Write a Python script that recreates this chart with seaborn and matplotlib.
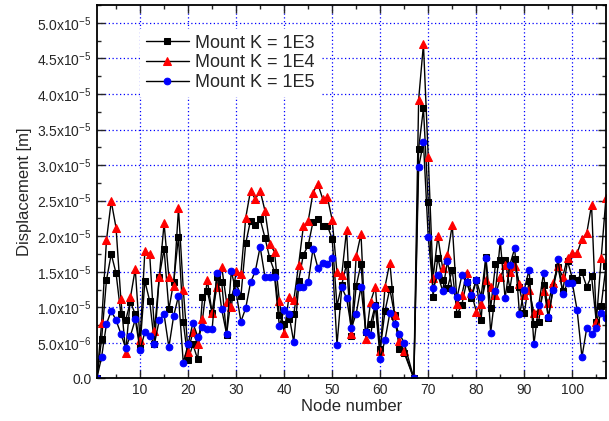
import numpy as np
import pandas as pd
import matplotlib
matplotlib.use("Agg")
import matplotlib.pyplot as plt
import seaborn as sns
from matplotlib.ticker import FixedLocator, MultipleLocator, FuncFormatter

# ---- data (values in 1e-6 m) ----
nodes = [1, 2, 3, 4, 5, 6, 7, 8, 9, 10, 11, 12, 13, 14, 15, 16, 17, 18, 19, 20,
         21, 22, 23, 24, 25, 26, 27, 28, 29, 30, 31, 32, 33, 34, 35, 36, 37, 38, 39, 40,
         41, 42, 43, 44, 45, 46, 47, 48, 49, 50, 51, 52, 53, 54, 55, 56, 57, 58, 59, 60,
         61, 62, 63, 64, 65, 67, 68, 69, 70, 71, 72, 73, 74, 75, 76, 77, 78, 79, 80,
         81, 82, 83, 84, 85, 86, 87, 88, 89, 90, 91, 92, 93, 94, 95, 96, 97, 98, 99, 100,
         101, 102, 103, 104, 105, 106, 107]

k1e3 = [0, 5.6, 13.8, 17.5, 14.8, 9.1, 8.2, 10.8, 9.0, 4.5, 13.7, 10.9, 4.9, 14.3, 18.2, 9.7, 13.6, 19.9, 7.9, 2.6,
        4.8, 2.7, 11.4, 12.3, 9.2, 14.2, 13.5, 6.1, 11.5, 13.4, 11.6, 19.0, 22.2, 21.6, 22.4, 19.8, 16.9, 15.0, 8.9, 7.7,
        8.4, 9.0, 13.7, 17.4, 18.7, 22.0, 22.4, 21.5, 21.5, 19.6, 10.2, 13.2, 16.1, 6.0, 13.0, 16.1, 6.6, 7.7, 10.4, 4.1,
        9.5, 12.6, 8.9, 4.1, 3.6, 0, 32.3, 38.0, 24.8, 11.5, 17.0, 13.9, 12.7, 15.3, 9.0, 10.4, 13.6, 11.3, 13.8,
        8.2, 17.1, 9.9, 16.1, 16.6, 16.7, 12.6, 16.8, 12.8, 9.2, 13.7, 7.7, 8.0, 13.1, 8.5, 12.8, 15.7, 12.3, 16.5, 14.1,
        13.8, 14.9, 12.9, 14.4, 7.9, 10.2, 15.8]

k1e4 = [0, 7.8, 19.4, 24.9, 21.2, 11.2, 3.6, 11.4, 15.4, 5.4, 17.9, 17.5, 6.7, 14.3, 21.8, 14.2, 13.0, 23.9, 12.5, 3.7,
        6.6, 4.8, 8.3, 13.9, 9.2, 12.8, 15.7, 10.8, 10.1, 15.1, 14.7, 22.6, 26.4, 25.2, 26.4, 23.6, 18.9, 17.8, 10.9, 6.4,
        11.5, 11.0, 15.9, 21.4, 22.1, 26.1, 27.4, 25.3, 25.5, 22.3, 14.9, 14.6, 20.9, 6.3, 17.2, 20.3, 5.5, 10.8, 12.9, 3.8,
        12.9, 16.3, 8.9, 5.2, 3.9, 0, 39.2, 47.0, 31.1, 14.1, 20.0, 15.5, 17.3, 21.6, 10.5, 11.8, 14.8, 12.0, 9.4,
        10.5, 13.8, 12.8, 11.7, 14.2, 15.9, 15.0, 15.8, 13.3, 11.7, 12.5, 9.2, 9.6, 12.3, 10.6, 13.4, 15.8, 14.3, 17.0, 17.6,
        17.6, 19.6, 20.4, 24.4, 8.0, 16.9, 25.4]

k1e5 = [0, 3.05, 7.65, 9.5, 8.2, 6.3, 4.3, 6.0, 8.3, 4.0, 6.5, 6.0, 4.9, 8.2, 9.0, 4.4, 8.8, 11.6, 2.2, 4.8,
        7.8, 5.9, 7.3, 6.9, 6.9, 14.8, 9.7, 6.3, 15.1, 12.1, 8.0, 9.9, 13.5, 15.1, 18.5, 14.3, 14.3, 14.3, 7.4, 9.6,
        9.0, 5.1, 12.8, 12.8, 13.5, 18.2, 15.6, 16.3, 16.1, 17.0, 4.7, 12.8, 11.3, 7.1, 9.1, 12.9, 6.6, 6.1, 10.2, 2.8,
        5.4, 9.2, 7.6, 6.3, 5.0, 0, 29.7, 33.2, 19.9, 12.7, 14.6, 12.3, 16.5, 12.4, 11.4, 14.5, 13.5, 11.7, 13.9,
        11.5, 17.0, 6.4, 12.3, 19.3, 11.3, 16.0, 18.3, 9.0, 12.5, 15.3, 4.8, 10.3, 14.8, 8.6, 12.5, 16.8, 11.9, 13.4, 13.4,
        9.6, 3.0, 7.1, 6.2, 7.1, 9.2, 8.5]

labels = ["Mount K = 1E3", "Mount K = 1E4", "Mount K = 1E5"]
x_ticks = [10, 20, 30, 40, 50, 60, 70, 80, 90, 100]
y_ticks = [0, 5e-6, 1e-5, 1.5e-5, 2e-5, 2.5e-5, 3e-5, 3.5e-5, 4e-5, 4.5e-5, 5e-5]

sns.set_style("ticks")
plt.rcParams['font.family'] = ['Liberation Sans', 'DejaVu Sans']
plt.rcParams['mathtext.fontset'] = 'custom'
plt.rcParams['mathtext.rm'] = 'Liberation Sans'
plt.rcParams['mathtext.default'] = 'regular'

df = pd.DataFrame({"node": nodes,
                   labels[0]: np.array(k1e3) * 1e-6,
                   labels[1]: np.array(k1e4) * 1e-6,
                   labels[2]: np.array(k1e5) * 1e-6})

fig = plt.figure(figsize=(6.09, 4.21), dpi=100)
ax = fig.add_axes([0.159, 0.101, 0.836, 0.887])

styles = [("s", "black", 4.3), ("^", "red", 5.3), ("o", "blue", 4.8)]
for lab, (mk, col, ms) in zip(labels, styles):
    sns.lineplot(data=df, x="node", y=lab, ax=ax, color="black", linewidth=1.0,
                 marker=mk, markersize=ms, markerfacecolor=col, markeredgecolor=col,
                 label=lab, estimator=None, sort=False)

ax.set_xlim(1, 107)
ax.set_ylim(0, 5.25e-5)
ax.xaxis.set_major_locator(FixedLocator(x_ticks))
ax.xaxis.set_minor_locator(MultipleLocator(5))
ax.yaxis.set_major_locator(FixedLocator(y_ticks))
ax.yaxis.set_minor_locator(MultipleLocator(2.5e-6))


def yfmt(v, pos):
    if abs(v) < 1e-12:
        return "0.0"
    e = int(np.floor(np.log10(v) + 1e-9))
    m = v / 10 ** e
    return f"{m:.1f}x10$^{{{e}}}$"


ax.yaxis.set_major_formatter(FuncFormatter(yfmt))
ax.tick_params(which="both", direction="in", top=True, right=True, width=1.0, labelsize=10)
ax.tick_params(which="major", length=5.5)
ax.tick_params(which="minor", length=3)
ax.grid(True, which="major", color="blue", linestyle=(0, (1, 2)), linewidth=0.9)
for s in ax.spines.values():
    s.set_linewidth(1.3)
    s.set_color("black")

ax.set_xlabel("Node number", fontsize=12, labelpad=1)
ax.set_ylabel("Displacement [m]", fontsize=12, labelpad=4)

leg = ax.legend(loc="upper left", bbox_to_anchor=(0.085, 0.935), fontsize=13,
                frameon=True, framealpha=1, facecolor="white", edgecolor="white",
                handlelength=2.4, labelspacing=0.15, borderaxespad=0, handletextpad=0.35,
                borderpad=0.3, fancybox=False)
leg.get_frame().set_linewidth(0)

fig.savefig("out.png", dpi=100)
